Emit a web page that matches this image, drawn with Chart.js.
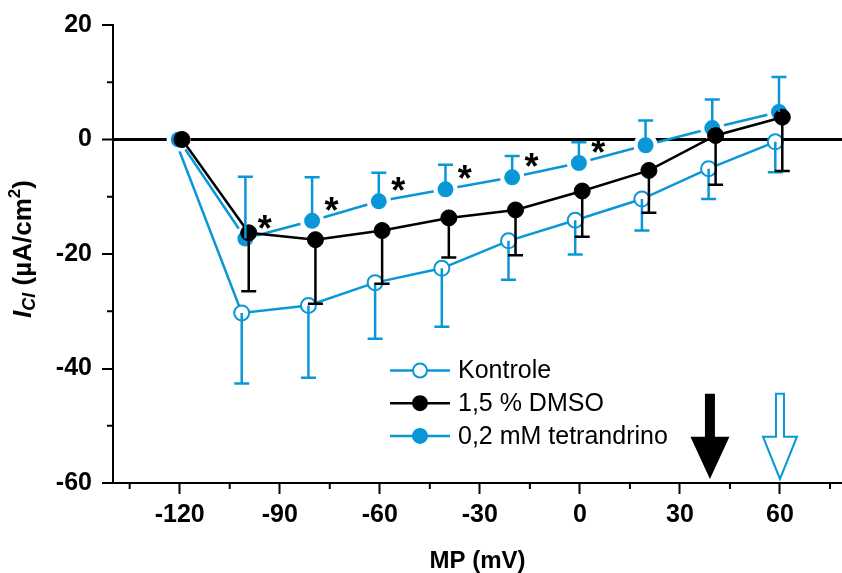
<!DOCTYPE html>
<html>
<head>
<meta charset="utf-8">
<script src="https://cdn.jsdelivr.net/npm/chart.js@4"></script>
<style>
html, body { margin: 0; padding: 0; background: #fff; overflow: hidden; }
/* 14px wider than the page: the line controller reserves point overflow on the right */
#wrap { width: 856px; height: 573px; }
</style>
</head>
<body>
<div id="wrap"><canvas id="myChart"></canvas></div>
<script>
// membrane potential steps (mV)
const mp = [-120, -100, -80, -60, -40, -20, 0, 20, 40, 60];

// I_Cl means and one-sided error bars (uA/cm2)
const kontrole    = [0, -30.3, -29.0, -25.0, -22.5, -17.7, -14.1, -10.4, -5.1, -0.4];
const kontroleLow = [0, -42.6, -41.6, -34.8, -32.7, -24.5, -20.1, -15.9, -10.4, -5.7];
const dmso        = [0, -16.3, -17.5, -15.9, -13.7, -12.3, -9.0, -5.4, 0.7, 3.9];
const dmsoLow     = [0, -26.5, -28.7, -25.2, -20.6, -20.2, -17.0, -12.8, -7.9, -5.5];
const tetra       = [0, -17.3, -14.2, -10.8, -8.7, -6.6, -4.1, -1.0, 2.0, 4.8];
const tetraHigh   = [0, -6.5, -6.6, -5.8, -4.4, -2.9, -0.5, 3.3, 7.0, 10.9];

const signif = [-100, -80, -60, -40, -20, 0];   // points marked with *
const reversal = [39, 60];                       // arrows: DMSO, Kontrole
const xTicks = [-135, -120, -105, -90, -75, -60, -45, -30, -15, 0, 15, 30, 45, 60, 75];
const seriesNames = ['Kontrole', '1,5 % DMSO', '0,2 mM tetrandrino'];

const BLUE = '#0a97d8';
const FONT = '"Liberation Sans", Arial, sans-serif';

const pts = (vals, dx) => mp.map((v, i) => ({ x: v + dx, y: vals[i] }));

// error bars, stars, arrows
const extras = {
    id: 'extras',
    afterDatasetsDraw(chart) {
        const ctx = chart.ctx;
        const xs = chart.scales.x, ys = chart.scales.y;
        const bars = [
            { vals: kontrole, ends: kontroleLow, dx: -1.4, color: BLUE },
            { vals: tetra, ends: tetraHigh, dx: -0.3, color: BLUE },
            { vals: dmso, ends: dmsoLow, dx: 0.7, color: '#000' }
        ];
        ctx.save();
        bars.forEach(b => {
            ctx.strokeStyle = b.color;
            ctx.lineWidth = 2.5;
            mp.forEach((v, i) => {
                if (b.ends[i] === b.vals[i]) return;
                const x = xs.getPixelForValue(v + b.dx);
                const y0 = ys.getPixelForValue(b.vals[i]);
                const y1 = ys.getPixelForValue(b.ends[i]);
                ctx.beginPath();
                ctx.moveTo(x, y0);
                ctx.lineTo(x, y1);
                ctx.moveTo(x - 7.5, y1);
                ctx.lineTo(x + 7.5, y1);
                ctx.stroke();
            });
        });

        // significance stars
        ctx.fillStyle = '#000';
        ctx.font = 'bold 36px ' + FONT;
        ctx.textAlign = 'center';
        ctx.textBaseline = 'alphabetic';
        signif.forEach(v => {
            const i = mp.indexOf(v);
            const x = xs.getPixelForValue(v + 5.5);
            const y = ys.getPixelForValue(tetra[i] + 3.3);
            ctx.fillText('*', x, y + 21);
        });

        // reversal arrows
        const arrow = (x, shaftW, headW) => {
            const yTop = ys.getPixelForValue(-44.4);
            const yHead = ys.getPixelForValue(-51.9);
            const yTip = ys.getPixelForValue(-59.3);
            ctx.beginPath();
            ctx.moveTo(x - shaftW / 2, yTop);
            ctx.lineTo(x + shaftW / 2, yTop);
            ctx.lineTo(x + shaftW / 2, yHead);
            ctx.lineTo(x + headW / 2, yHead);
            ctx.lineTo(x, yTip);
            ctx.lineTo(x - headW / 2, yHead);
            ctx.lineTo(x - shaftW / 2, yHead);
            ctx.closePath();
        };
        arrow(xs.getPixelForValue(reversal[0]), 10, 39);
        ctx.fillStyle = '#000';
        ctx.fill();
        arrow(xs.getPixelForValue(reversal[1]), 8, 34);
        ctx.fillStyle = '#fff';
        ctx.fill();
        ctx.strokeStyle = BLUE;
        ctx.lineWidth = 2;
        ctx.stroke();
        ctx.restore();
    },
    afterDraw(chart) {
        const ctx = chart.ctx;
        const xs = chart.scales.x, ys = chart.scales.y;
        ctx.save();
        // minor ticks
        ctx.strokeStyle = '#000';
        ctx.lineWidth = 2;
        xs.ticks.forEach(t => {
            if (t.value % 30 === 0) return;
            const x = xs.getPixelForValue(t.value);
            ctx.beginPath();
            ctx.moveTo(x, xs.top);
            ctx.lineTo(x, xs.top + 6);
            ctx.stroke();
        });
        ys.ticks.forEach(t => {
            if (t.value % 20 === 0) return;
            const y = ys.getPixelForValue(t.value);
            ctx.beginPath();
            ctx.moveTo(ys.right, y);
            ctx.lineTo(ys.right - 6, y);
            ctx.stroke();
        });

        // legend
        const styles = [
            { color: BLUE, fill: '#fff' },
            { color: '#000', fill: '#000' },
            { color: BLUE, fill: BLUE }
        ];
        const lx = 390, ly = 370.5, gap = 32.7;
        seriesNames.forEach((name, i) => {
            const y = ly + i * gap;
            const s = styles[i];
            ctx.strokeStyle = s.color;
            ctx.lineWidth = 2.5;
            ctx.beginPath();
            ctx.moveTo(lx, y);
            ctx.lineTo(lx + 60, y);
            ctx.stroke();
            ctx.beginPath();
            ctx.arc(lx + 30, y, 7, 0, Math.PI * 2);
            ctx.fillStyle = s.fill;
            ctx.fill();
            ctx.lineWidth = 2;
            ctx.stroke();
            ctx.fillStyle = '#000';
            ctx.font = '25px ' + FONT;
            ctx.textAlign = 'left';
            ctx.textBaseline = 'middle';
            ctx.fillText(name, lx + 68, y + 1);
        });

        // y axis title: I_Cl (uA/cm^2)
        ctx.translate(24, 249);
        ctx.rotate(-Math.PI / 2);
        ctx.textBaseline = 'middle';
        ctx.textAlign = 'left';
        const parts = [
            { t: 'I', f: 'italic bold 26px ', dy: 0 },
            { t: 'Cl', f: 'italic bold 18px ', dy: 6 },
            { t: ' (\u00b5A/cm', f: 'bold 26px ', dy: 0 },
            { t: '2', f: 'bold 17px ', dy: -9 },
            { t: ')', f: 'bold 26px ', dy: 0 }
        ];
        let total = 0;
        parts.forEach(p => { ctx.font = p.f + FONT; p.w = ctx.measureText(p.t).width; total += p.w; });
        let cx = -total / 2;
        ctx.fillStyle = '#000';
        parts.forEach(p => {
            ctx.font = p.f + FONT;
            ctx.fillText(p.t, cx, p.dy);
            cx += p.w;
        });
        ctx.restore();
    }
};

const data = {
    datasets: [
        {
            label: seriesNames[1],
            data: pts(dmso, 0.7),
            borderColor: '#000',
            backgroundColor: '#000',
            borderWidth: 2.5,
            pointRadius: 8,
            pointBorderWidth: 1,
            order: 0
        },
        {
            label: seriesNames[2],
            data: pts(tetra, -0.3),
            borderColor: BLUE,
            backgroundColor: BLUE,
            borderWidth: 2.5,
            pointRadius: 10,
            pointBackgroundColor: BLUE,
            pointBorderColor: '#fff',
            pointBorderWidth: 4,
            order: 1
        },
        {
            label: seriesNames[0],
            data: pts(kontrole, -1.4),
            borderColor: BLUE,
            backgroundColor: '#fff',
            borderWidth: 2.5,
            pointRadius: 7.5,
            pointBackgroundColor: '#fff',
            pointBorderColor: BLUE,
            pointBorderWidth: 2,
            order: 2
        }
    ]
};

const config = {
    type: 'line',
    data: data,
    options: {
        responsive: true,
        maintainAspectRatio: false,
        animation: false,
        layout: { padding: { top: 25, right: 0, left: 0, bottom: 0 } },
        plugins: { legend: { display: false }, tooltip: { enabled: false } },
        scales: {
            x: {
                type: 'linear',
                min: -140,
                max: 78.6,
                afterBuildTicks: scale => { scale.ticks = xTicks.map(v => ({ value: v })); },
                afterFit: scale => {
                    scale.height = 90;
                    scale.paddingLeft = 0;
                    scale.paddingRight = 0;
                },
                ticks: {
                    autoSkip: false,
                    maxRotation: 0,
                    padding: 6,
                    color: '#000',
                    font: { family: FONT, size: 25, weight: 'bold' },
                    callback: v => (v % 30 === 0 ? String(v) : '')
                },
                grid: {
                    drawOnChartArea: false,
                    tickLength: 11,
                    tickWidth: 2,
                    tickColor: c => (c.tick && c.tick.value % 30 === 0 ? '#000' : 'rgba(0,0,0,0)')
                },
                border: { display: true, color: '#000', width: 2 },
                title: {
                    display: true,
                    text: 'MP (mV)',
                    color: '#000',
                    font: { family: FONT, size: 24, weight: 'bold', lineHeight: 1 },
                    padding: { top: 0, bottom: 0 }
                }
            },
            y: {
                min: -60,
                max: 20,
                afterFit: scale => { scale.width = 113; },
                ticks: {
                    stepSize: 10,
                    padding: 10,
                    color: '#000',
                    font: { family: FONT, size: 25, weight: 'bold' },
                    callback: v => (v % 20 === 0 ? String(v) : '')
                },
                grid: {
                    drawOnChartArea: true,
                    color: c => (c.tick && c.tick.value === 0 ? '#000' : 'rgba(0,0,0,0)'),
                    lineWidth: c => (c.tick && c.tick.value === 0 ? 3 : 0),
                    tickLength: 11,
                    tickWidth: 2,
                    tickColor: c => (c.tick && c.tick.value % 20 === 0 ? '#000' : 'rgba(0,0,0,0)')
                },
                border: { display: true, color: '#000', width: 2 }
            }
        }
    },
    plugins: [extras]
};

// build chart
const myChart = new Chart(document.getElementById('myChart'), config);
</script>
</body>
</html>
